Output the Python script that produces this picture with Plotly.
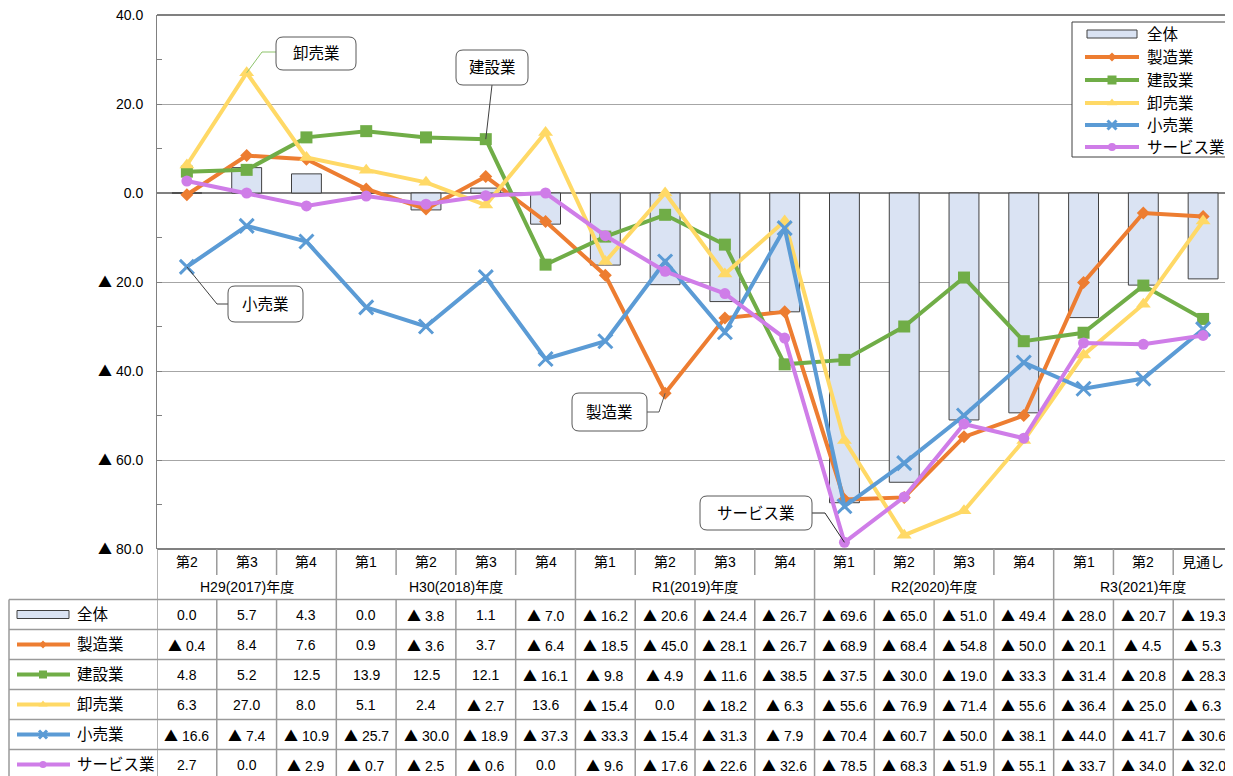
import plotly.graph_objects as go

# ---------------- data ----------------
quarters = ['第2', '第3', '第4', '第1', '第2', '第3', '第4', '第1', '第2', '第3', '第4',
            '第1', '第2', '第3', '第4', '第1', '第2', '見通し']
year_labels = ['H29(2017)年度', 'H30(2018)年度', 'R1(2019)年度', 'R2(2020)年度', 'R3(2021)年度']
year_spans = [3, 4, 4, 4, 3]

total_name = '全体'
total = [0.0, 5.7, 4.3, 0.0, -3.8, 1.1, -7.0, -16.2, -20.6, -24.4, -26.7,
         -69.6, -65.0, -51.0, -49.4, -28.0, -20.7, -19.3]

series_names = ['製造業', '建設業', '卸売業', '小売業', 'サービス業']
manufacturing = [-0.4, 8.4, 7.6, 0.9, -3.6, 3.7, -6.4, -18.5, -45.0, -28.1, -26.7,
                 -68.9, -68.4, -54.8, -50.0, -20.1, -4.5, -5.3]
construction = [4.8, 5.2, 12.5, 13.9, 12.5, 12.1, -16.1, -9.8, -4.9, -11.6, -38.5,
                -37.5, -30.0, -19.0, -33.3, -31.4, -20.8, -28.3]
wholesale = [6.3, 27.0, 8.0, 5.1, 2.4, -2.7, 13.6, -15.4, 0.0, -18.2, -6.3,
             -55.6, -76.9, -71.4, -55.6, -36.4, -25.0, -6.3]
retail = [-16.6, -7.4, -10.9, -25.7, -30.0, -18.9, -37.3, -33.3, -15.4, -31.3, -7.9,
          -70.4, -60.7, -50.0, -38.1, -44.0, -41.7, -30.6]
services = [2.7, 0.0, -2.9, -0.7, -2.5, -0.6, 0.0, -9.6, -17.6, -22.6, -32.6,
            -78.5, -68.3, -51.9, -55.1, -33.7, -34.0, -32.0]
series_values = [manufacturing, construction, wholesale, retail, services]

y_tickvals = [40, 20, 0, -20, -40, -60, -80]

# ---------------- styles ----------------
colors = ['#ED7D31', '#70AD47', '#FFD966', '#5B9BD5', '#CF7DE8']
symbols = ['diamond', 'square', 'triangle-up', 'x-thin', 'circle']
msizes = [10, 12, 13, 14, 11]
key_msizes = [7, 9, 9, 9, 8]
bar_fill = '#DAE3F3'
bar_line = '#404040'
grid_c = '#A6A6A6'
border_c = '#808080'
FONT = 'Liberation Sans, Arial, Noto Sans CJK JP, sans-serif'
TRI = '<span style="font-family:Noto Sans CJK JP">▲</span>'


def fmt(v):
    if v == 0:
        return '0.0'
    if v < 0:
        return TRI + ' %.1f' % (-v)
    return '%.1f' % v


# page geometry (page pixels); the page body adds an 8px margin around the figure
PW, PH = 1233, 776
OFF = 8
FW, FH = PW - OFF, PH - OFF
L, T, B = 157, 15, 549          # plot box in page pixels
YMIN, YMAX = -80, 40
n = len(quarters)
colw = (PW - L) / n


def px(i):
    return L + colw * (i + 0.5)


def py(v):
    return T + (YMAX - v) * (B - T) / (YMAX - YMIN)


def marker_of(k, size):
    if symbols[k] == 'x-thin':
        return dict(symbol='x-thin', size=size, color=colors[k],
                    line=dict(width=3, color=colors[k]))
    return dict(symbol=symbols[k], size=size, color=colors[k], line=dict(width=0))


fig = go.Figure()
xs = list(range(n))

fig.add_trace(go.Bar(x=xs, y=total, width=0.5, name=total_name,
                     marker=dict(color=bar_fill, line=dict(color=bar_line, width=1)),
                     xaxis='x', yaxis='y', showlegend=False))
for k, name in enumerate(series_names):
    fig.add_trace(go.Scatter(x=xs, y=series_values[k], mode='lines+markers', name=name,
                             line=dict(color=colors[k], width=4),
                             marker=marker_of(k, msizes[k]),
                             xaxis='x', yaxis='y', showlegend=False))

shapes = []
annos = []

# plot top border and bottom (table top)
shapes.append(dict(type='line', xref='x2', yref='y2', x0=L, x1=PW, y0=T, y1=T,
                   line=dict(color=border_c, width=2)))
shapes.append(dict(type='line', xref='x2', yref='y2', x0=L, x1=PW, y0=B, y1=B,
                   line=dict(color=border_c, width=2)))

# ---------------- legend (manual) ----------------
shapes.append(dict(type='rect', xref='x2', yref='y2', x0=1072, x1=1232, y0=22, y1=157,
                   fillcolor='white', line=dict(color='#404040', width=1), layer='below'))
leg_y = [34, 57, 80, 103, 125, 147]
shapes.append(dict(type='rect', xref='x2', yref='y2', x0=1087, x1=1137,
                   y0=leg_y[0] - 4, y1=leg_y[0] + 4, fillcolor=bar_fill,
                   line=dict(color=bar_line, width=1), layer='below'))
leg_font = dict(size=15.5, color='black', family=FONT)
annos.append(dict(xref='x2', yref='y2', x=1145, y=leg_y[0], text=total_name, showarrow=False,
                  xanchor='left', yanchor='middle', font=leg_font))
for k, name in enumerate(series_names):
    yk = leg_y[k + 1]
    fig.add_trace(go.Scatter(x=[1085, 1139], y=[yk, yk], mode='lines',
                             line=dict(color=colors[k], width=4), xaxis='x2', yaxis='y2',
                             showlegend=False, hoverinfo='skip'))
    fig.add_trace(go.Scatter(x=[1112], y=[yk], mode='markers', marker=marker_of(k, key_msizes[k]),
                             xaxis='x2', yaxis='y2', showlegend=False, hoverinfo='skip'))
    annos.append(dict(xref='x2', yref='y2', x=1145, y=yk, text=name, showarrow=False,
                      xanchor='left', yanchor='middle', font=leg_font))

# ---------------- table ----------------
tbl_c = '#9A9A9A'
row_top = 599.5
row_h = 30
n_rows = 1 + len(series_names)
row_lines = [row_top + r * row_h for r in range(n_rows + 1)]
for yl in row_lines:
    shapes.append(dict(type='line', xref='x2', yref='y2', x0=9, x1=PW, y0=yl, y1=yl,
                       line=dict(color=tbl_c, width=1.5)))
shapes.append(dict(type='line', xref='x2', yref='y2', x0=9, x1=9, y0=row_top, y1=row_lines[-1],
                   line=dict(color=tbl_c, width=1.5)))
group_bounds = [0]
for s in year_spans:
    group_bounds.append(group_bounds[-1] + s)
for kb in range(n + 1):
    xb = kb - 0.5
    if kb in group_bounds:
        shapes.append(dict(type='line', xref='x', yref='y2', x0=xb, x1=xb, y0=B, y1=row_lines[-1],
                           line=dict(color=tbl_c, width=1.5)))
    else:
        shapes.append(dict(type='line', xref='x', yref='y2', x0=xb, x1=xb, y0=B, y1=575,
                           line=dict(color=tbl_c, width=1.5)))
        shapes.append(dict(type='line', xref='x', yref='y2', x0=xb, x1=xb, y0=row_top, y1=row_lines[-1],
                           line=dict(color=tbl_c, width=1.5)))

cell_font = dict(size=14, color='black', family=FONT)
for i, q in enumerate(quarters):
    annos.append(dict(xref='x', yref='y2', x=i, y=562, text=q, showarrow=False,
                      xanchor='center', yanchor='middle', font=cell_font))
for g, lab in enumerate(year_labels):
    xc = (group_bounds[g] + group_bounds[g + 1] - 1) / 2
    annos.append(dict(xref='x', yref='y2', x=xc, y=587, text=lab, showarrow=False,
                      xanchor='center', yanchor='middle', font=cell_font))

rows = [(total_name, total)] + list(zip(series_names, series_values))
for r, (name, vals) in enumerate(rows):
    yc = row_top + row_h * (r + 0.5)
    for i, v in enumerate(vals):
        annos.append(dict(xref='x', yref='y2', x=i, y=yc, text=fmt(v), showarrow=False,
                          xanchor='center', yanchor='middle', font=cell_font))
    annos.append(dict(xref='x2', yref='y2', x=75, y=yc, text=name, showarrow=False,
                      xanchor='left', yanchor='middle', font=leg_font))
    if r == 0:
        shapes.append(dict(type='rect', xref='x2', yref='y2', x0=17, x1=69, y0=yc - 4, y1=yc + 4,
                           fillcolor=bar_fill, line=dict(color=bar_line, width=1), layer='below'))
    else:
        k = r - 1
        fig.add_trace(go.Scatter(x=[17, 70], y=[yc, yc], mode='lines',
                                 line=dict(color=colors[k], width=4), xaxis='x2', yaxis='y2',
                                 showlegend=False, hoverinfo='skip'))
        fig.add_trace(go.Scatter(x=[43], y=[yc], mode='markers', marker=marker_of(k, key_msizes[k] - 1),
                                 xaxis='x2', yaxis='y2', showlegend=False, hoverinfo='skip'))

# ---------------- callouts ----------------


def rrect(x0, y0, x1, y1, r=7):
    return (f"M{x0 + r},{y0} L{x1 - r},{y0} Q{x1},{y0} {x1},{y0 + r} L{x1},{y1 - r} "
            f"Q{x1},{y1} {x1 - r},{y1} L{x0 + r},{y1} Q{x0},{y1} {x0},{y1 - r} "
            f"L{x0},{y0 + r} Q{x0},{y0} {x0 + r},{y0} Z")


# (series index, point index, box (x0,y0,x1,y1), leader points from box to elbow, leader colour)
callouts = [
    (2, 1, (276, 37, 356, 70), [(276, 52), (262, 52)], '#8DC36B'),
    (1, 5, (456, 50, 528, 85), [(492, 85)], '#404040'),
    (3, 0, (228, 286, 303, 322), [(228, 304), (217, 304)], '#404040'),
    (0, 8, (572, 393, 647, 431), [(647, 412), (659, 412)], '#595959'),
    (4, 11, (700, 496, 812, 530), [(812, 513), (825, 513)], '#262626'),
]
for k, i, (x0, y0, x1, y1), pts, lc in callouts:
    pts = pts + [(px(i), py(series_values[k][i]))]
    path = 'M' + ' L'.join(f'{a},{b}' for a, b in pts)
    shapes.append(dict(type='path', xref='x2', yref='y2', path=path,
                       line=dict(color=lc, width=1), layer='above'))
    shapes.append(dict(type='path', xref='x2', yref='y2', path=rrect(x0, y0, x1, y1),
                       fillcolor='white', line=dict(color='#595959', width=1), layer='above'))
    annos.append(dict(xref='x2', yref='y2', x=(x0 + x1) / 2, y=(y0 + y1) / 2, text=series_names[k],
                      showarrow=False, xanchor='center', yanchor='middle', font=leg_font))

fig.update_layout(
    width=FW, height=FH,
    margin=dict(l=0, r=0, t=0, b=0, pad=0),
    paper_bgcolor='white', plot_bgcolor='rgba(0,0,0,0)',
    showlegend=False, bargap=0.5,
    font=dict(family=FONT, color='black'),
    xaxis=dict(domain=[(L - OFF) / FW, 1], range=[-0.5, n - 0.5], showticklabels=False, showgrid=False,
               zeroline=False, showline=False, ticks='', fixedrange=True, anchor='y'),
    yaxis=dict(domain=[(PH - B) / FH, (PH - T) / FH], range=[YMIN, YMAX], tickvals=y_tickvals,
               ticktext=[fmt(v) for v in y_tickvals], showgrid=True, gridcolor=grid_c, gridwidth=1,
               zeroline=True, zerolinecolor=border_c, zerolinewidth=2,
               showline=True, linecolor=border_c, linewidth=1,
               ticks='inside', ticklen=5, tickcolor=border_c, ticklabelstandoff=10,
               ticklabeloverflow='allow',
               minor=dict(dtick=10, tick0=0, ticks='inside', ticklen=5, tickcolor=border_c, showgrid=False),
               tickfont=dict(size=14, color='black', family=FONT), automargin=False,
               fixedrange=True, anchor='x'),
    xaxis2=dict(domain=[0, 1], range=[OFF, PW], visible=False, anchor='y2', fixedrange=True),
    yaxis2=dict(domain=[0, 1], range=[PH, OFF], visible=False, anchor='x2', fixedrange=True),
    shapes=shapes, annotations=annos,
)

fig.write_html('out.html')
